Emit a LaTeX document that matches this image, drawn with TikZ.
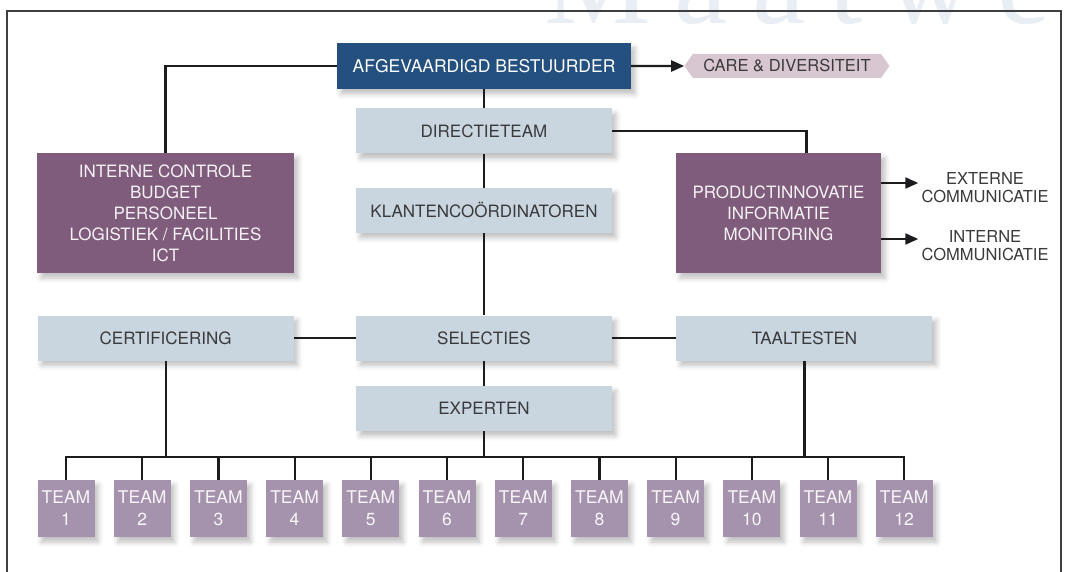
\documentclass[tikz,border=0pt]{standalone}
\usepackage{fontspec}
\setmainfont{TeX Gyre Heros}
\newfontfamily\markfont[LetterSpace=20]{Liberation Serif}
\usepackage{xcolor}
\definecolor{chiefBlue}{HTML}{24507F}
\definecolor{paleBlue}{HTML}{C9D6E0}
\definecolor{plum}{HTML}{7F5C7B}
\definecolor{lilac}{HTML}{A593AE}
\definecolor{rose}{HTML}{D8C6D0}
\definecolor{lineDark}{HTML}{1C1C1E}
\definecolor{textGrey}{HTML}{3A3A3C}
\definecolor{markBlue}{HTML}{E9EEF5}
\usepackage{tikz}
\usetikzlibrary{positioning,calc,arrows.meta,shapes.symbols,shadows.blur}
\tikzset{%
  softShadow/.style={%
    blur shadow={shadow xshift=4pt, shadow yshift=-5pt,
      shadow blur radius=5pt, shadow opacity=25}
  },
  chiefBox/.style={%
    rectangle,
    fill=chiefBlue,
    text=white,
    minimum width=294pt,
    minimum height=46pt,
    font=\fontsize{17.5}{21}\selectfont,
    softShadow
  },
  paleBox/.style={%
    rectangle,
    fill=paleBlue,
    text=textGrey,
    minimum width=256pt,
    minimum height=45pt,
    font=\fontsize{17}{21}\selectfont,
    softShadow
  },
  plumBox/.style={%
    rectangle,
    fill=plum,
    text=white!92!plum,
    minimum width=257pt,
    minimum height=120pt,
    align=center,
    font=\fontsize{17}{21}\selectfont,
    softShadow
  },
  teamBox/.style={%
    rectangle,
    fill=lilac,
    text=white!92!lilac,
    minimum width=57pt,
    minimum height=57pt,
    align=center,
    font=\fontsize{17.5}{22}\selectfont,
    softShadow
  },
  careTag/.style={%
    signal,
    signal to=east and west,
    signal pointer angle=110,
    fill=rose,
    text=textGrey,
    minimum width=205pt,
    minimum height=24pt,
    font=\fontsize{16.5}{20}\selectfont
  },
  sideText/.style={%
    align=center,
    inner sep=1pt,
    text=textGrey,
    font=\fontsize{16.5}{18}\selectfont
  },
  markText/.style={%
    text=markBlue,
    inner sep=0pt,
    font=\markfont\fontsize{120}{120}\selectfont
  },
  plainLine/.style={%
    line width=2.2pt,
    color=lineDark
  },
  arrowLine/.style={%
    -{Triangle[length=13pt,width=11pt]},
    line width=2.2pt,
    color=lineDark
  },
  frameLine/.style={%
    line width=1.4pt,
    color=lineDark!85
  }
}

\begin{document}
\begin{tikzpicture}[x=1pt,y=-1pt,node distance=34pt]
  \useasboundingbox (0,0) rectangle (1067,572);
  % watermark and frame
  \node[markText, anchor=base west] (mark) at (544,24) {Maatwe};
  \draw[frameLine] (7,572) -- (7,11) -- (1061,11) -- (1061,572);

  % management
  \node[chiefBox] (chief) at (484,66) {AFGEVAARDIGD BESTUURDER};
  \node[careTag, right=53pt of chief] (care) {CARE \& DIVERSITEIT};
  \node[paleBox] (directie) at (484,131) {DIRECTIETEAM};
  \node[paleBox, below=of directie] (klanten) {KLANTENCOÖRDINATOREN};
  \node[plumBox] (intern) at (165.5,213) {INTERNE CONTROLE\\BUDGET\\PERSONEEL\\LOGISTIEK / FACILITIES\\ICT};
  \node[plumBox, minimum width=205pt] (product) at (778.5,213) {PRODUCTINNOVATIE\\INFORMATIE\\MONITORING};
  \node[sideText] (externe) at (985,188) {EXTERNE\\COMMUNICATIE};
  \node[sideText] (interne) at (985,246) {INTERNE\\COMMUNICATIE};

  % departments
  \node[paleBox] (selecties) at (484,338) {SELECTIES};
  \node[paleBox, below=25pt of selecties] (experten) {EXPERTEN};
  \node[paleBox, left=62pt of selecties] (certif) {CERTIFICERING};
  \node[paleBox, right=64pt of selecties] (taal) {TAALTESTEN};
  \coordinate (busLevel) at (484,457);

  % teams
  \foreach \n in {1,...,12}
    \node[teamBox] (team\n) at ({66+76.2*(\n-1)},508.5) {TEAM\\\n};

  % connectors
  \draw[arrowLine] (chief) -- (care);
  \draw[plainLine] (chief.west) -| (intern.north);
  \draw[plainLine] (directie.east) -| ([xshift=28pt]product.north);
  \draw[arrowLine] ($(product.east |- externe.west)+(0,-5)$) -- ($(externe.west)+(-2,-5)$);
  \draw[arrowLine] ($(product.east |- interne.west)+(0,-7)$) -- ($(interne.west)+(-2,-7)$);
  \draw[plainLine] (chief) -- (directie) -- (klanten) -- (selecties) -- (experten);
  \draw[plainLine] (certif) -- (selecties) -- (taal);
  \draw[plainLine] (experten) -- (experten |- busLevel);
  \draw[plainLine] (certif) -- (certif |- busLevel);
  \draw[plainLine] (taal) -- (taal |- busLevel);
  \draw[plainLine] (team1.north) |- (team12.north |- busLevel) -- (team12.north);
  \foreach \n in {2,...,11}
    \draw[plainLine] (team\n.north) -- (team\n.north |- busLevel);
\end{tikzpicture}
\end{document}
